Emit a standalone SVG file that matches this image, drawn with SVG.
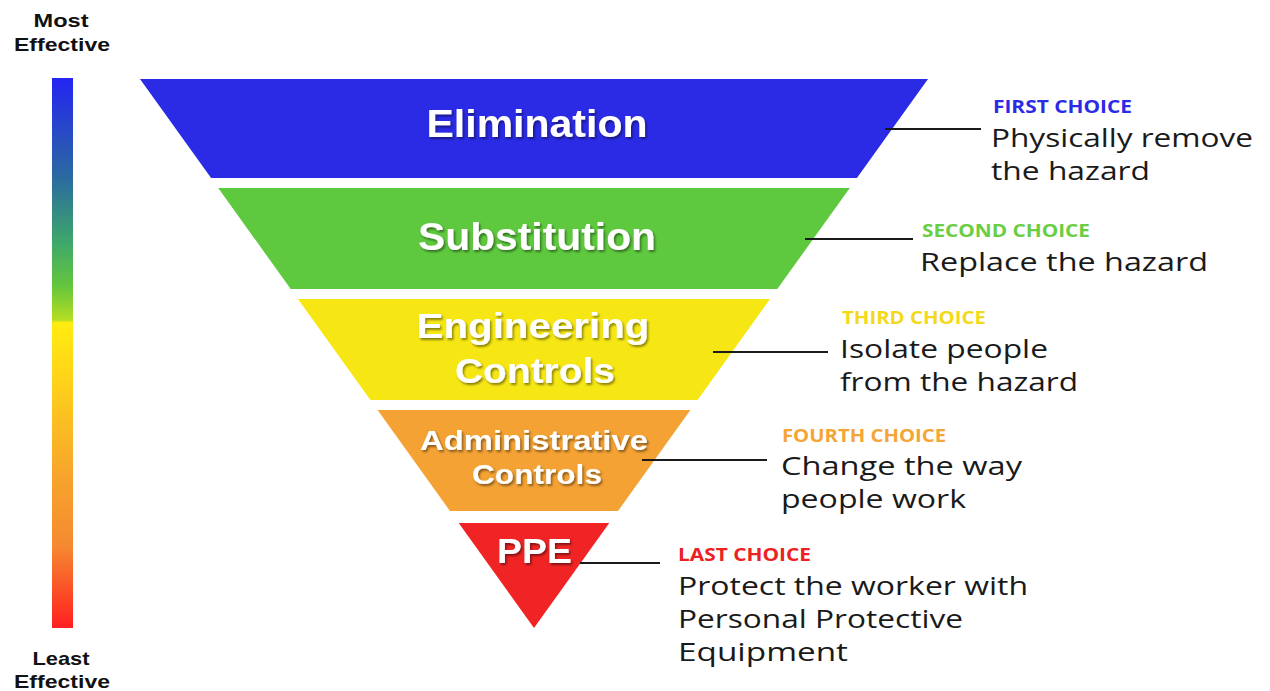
<svg xmlns="http://www.w3.org/2000/svg" width="1270" height="691" viewBox="0 0 1270 691">
<defs>
<linearGradient id="bar" x1="0" y1="0" x2="0" y2="1">
<stop offset="0" stop-color="#2424f2"/>
<stop offset="0.18" stop-color="#2a6aa0"/>
<stop offset="0.3" stop-color="#3ea86a"/>
<stop offset="0.38" stop-color="#66c63c"/>
<stop offset="0.44" stop-color="#b5de22"/>
<stop offset="0.445" stop-color="#ffec10"/>
<stop offset="0.55" stop-color="#ffd21a"/>
<stop offset="0.72" stop-color="#f7a52c"/>
<stop offset="0.85" stop-color="#f58a30"/>
<stop offset="1" stop-color="#ff1f1f"/>
</linearGradient>
<filter id="sh" x="-10%" y="-30%" width="120%" height="160%">
<feDropShadow dx="1.5" dy="2" stdDeviation="1.2" flood-color="#000" flood-opacity="0.45"/>
</filter>
</defs>
<style>
.lbl{font-family:"Liberation Sans",Arial,sans-serif;font-weight:700;fill:#ffffff;text-anchor:middle;filter:url(#sh)}
.side{font-family:"Liberation Sans",Arial,sans-serif;font-weight:700;fill:#111111;text-anchor:middle;font-size:19px}
.ch{font-family:"Open Sans","Liberation Sans",sans-serif;font-weight:700;font-size:17px}
.desc{font-family:"Open Sans","Liberation Sans",sans-serif;font-weight:400;font-size:26px;fill:#1a1a1a}
.conn line{stroke:#1a1a1a;stroke-width:2}
</style>
<rect width="1270" height="691" fill="#ffffff"/>

<g id="scale">
<rect x="52" y="78" width="21" height="550" fill="url(#bar)"/>
<text class="side" x="61" y="27" textLength="55" lengthAdjust="spacingAndGlyphs">Most</text>
<text class="side" x="62" y="51" textLength="96" lengthAdjust="spacingAndGlyphs">Effective</text>
<text class="side" x="61" y="665" textLength="57" lengthAdjust="spacingAndGlyphs">Least</text>
<text class="side" x="62" y="688" textLength="96" lengthAdjust="spacingAndGlyphs">Effective</text>
</g>

<g id="elimination">
<polygon points="140,79 928,79 856.9,178 211.1,178" fill="#2b2be6"/>
<text class="lbl" x="537" y="137" font-size="38" textLength="221" lengthAdjust="spacingAndGlyphs">Elimination</text>
</g>
<g id="substitution">
<polygon points="218.2,188 849.8,188 777.3,289 290.7,289" fill="#5ec93e"/>
<text class="lbl" x="537" y="250" font-size="38" textLength="238" lengthAdjust="spacingAndGlyphs">Substitution</text>
</g>
<g id="engineering">
<polygon points="297.9,299 770.1,299 697.6,400 370.4,400" fill="#f6e714"/>
<text class="lbl" x="533" y="338" font-size="35" textLength="233" lengthAdjust="spacingAndGlyphs">Engineering</text>
<text class="lbl" x="535" y="383" font-size="35" textLength="160" lengthAdjust="spacingAndGlyphs">Controls</text>
</g>
<g id="administrative">
<polygon points="377.6,410 690.4,410 618,511 450,511" fill="#f4a234"/>
<text class="lbl" x="534" y="450" font-size="28" textLength="228" lengthAdjust="spacingAndGlyphs">Administrative</text>
<text class="lbl" x="537" y="484" font-size="28" textLength="130" lengthAdjust="spacingAndGlyphs">Controls</text>
</g>
<g id="ppe">
<polygon points="458.7,523 609.3,523 534,628" fill="#f02424"/>
<text class="lbl" x="534.5" y="563" font-size="35" textLength="75" lengthAdjust="spacingAndGlyphs">PPE</text>
</g>

<g id="connectors" class="conn">
<line x1="885" y1="129" x2="981" y2="129"/>
<line x1="805" y1="239" x2="913" y2="239"/>
<line x1="713" y1="352" x2="828" y2="352"/>
<line x1="642" y1="460" x2="767" y2="460"/>
<line x1="580" y1="563" x2="660" y2="563"/>
</g>

<g id="note-first">
<text class="ch" x="993" y="113" fill="#2b2be6" textLength="139" lengthAdjust="spacingAndGlyphs">FIRST CHOICE</text>
<text class="desc" x="991" y="147" textLength="262" lengthAdjust="spacingAndGlyphs">Physically remove</text>
<text class="desc" x="991" y="180" textLength="159" lengthAdjust="spacingAndGlyphs">the hazard</text>
</g>
<g id="note-second">
<text class="ch" x="922" y="237" fill="#6acd44" textLength="168" lengthAdjust="spacingAndGlyphs">SECOND CHOICE</text>
<text class="desc" x="920" y="271" textLength="288" lengthAdjust="spacingAndGlyphs">Replace the hazard</text>
</g>
<g id="note-third">
<text class="ch" x="842" y="324" fill="#f3d91a" textLength="144" lengthAdjust="spacingAndGlyphs">THIRD CHOICE</text>
<text class="desc" x="840" y="358" textLength="208" lengthAdjust="spacingAndGlyphs">Isolate people</text>
<text class="desc" x="840" y="391" textLength="238" lengthAdjust="spacingAndGlyphs">from the hazard</text>
</g>
<g id="note-fourth">
<text class="ch" x="782" y="442" fill="#f5a438" textLength="164" lengthAdjust="spacingAndGlyphs">FOURTH CHOICE</text>
<text class="desc" x="781" y="475" textLength="241" lengthAdjust="spacingAndGlyphs">Change the way</text>
<text class="desc" x="781" y="508" textLength="185" lengthAdjust="spacingAndGlyphs">people work</text>
</g>
<g id="note-last">
<text class="ch" x="678" y="561" fill="#ec2222" textLength="133" lengthAdjust="spacingAndGlyphs">LAST CHOICE</text>
<text class="desc" x="678" y="595" textLength="350" lengthAdjust="spacingAndGlyphs">Protect the worker with</text>
<text class="desc" x="678" y="628" textLength="285" lengthAdjust="spacingAndGlyphs">Personal Protective</text>
<text class="desc" x="678" y="661" textLength="170" lengthAdjust="spacingAndGlyphs">Equipment</text>
</g>
</svg>
